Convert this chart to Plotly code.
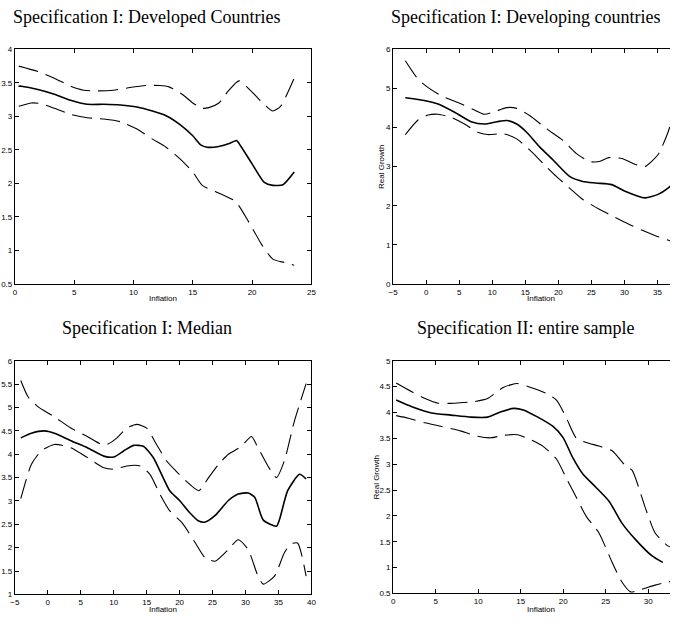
import plotly.graph_objects as go

# ---------------- data ----------------
# Panel 1: Specification I: Developed Countries
p1_mid_x = [0.3, 0.55, 1.94, 3.33, 4.7, 6.1, 7.5, 8.9, 10.3, 11.6, 12.75, 13.9, 15.0, 15.7, 16.2, 17.2, 18.0, 18.7, 18.8, 19.9, 21.0, 21.75, 22.6, 23.55]
p1_mid_y = [3.45, 3.45, 3.40, 3.33, 3.24, 3.18, 3.18, 3.17, 3.14, 3.08, 3.01, 2.88, 2.71, 2.57, 2.54, 2.55, 2.59, 2.64, 2.62, 2.32, 2.02, 1.97, 1.98, 2.17]
p1_up_x = [0.33, 1.94, 3.33, 4.7, 5.8, 6.9, 8.3, 9.7, 11.1, 12.2, 13.0, 14.1, 15.0, 15.8, 16.35, 17.2, 18.0, 18.9, 19.9, 21.0, 21.75, 22.4, 23.55]
p1_up_y = [3.75, 3.67, 3.57, 3.45, 3.39, 3.38, 3.39, 3.43, 3.46, 3.46, 3.44, 3.33, 3.20, 3.12, 3.13, 3.20, 3.38, 3.53, 3.38, 3.18, 3.08, 3.15, 3.57]
p1_lo_x = [0.33, 1.4, 2.22, 3.33, 4.7, 6.1, 7.5, 8.9, 10.3, 11.6, 12.75, 13.9, 15.0, 15.8, 16.9, 18.6, 19.7, 20.8, 21.75, 22.7, 23.55]
p1_lo_y = [3.15, 3.20, 3.19, 3.12, 3.03, 2.98, 2.96, 2.92, 2.81, 2.66, 2.54, 2.37, 2.17, 1.97, 1.88, 1.73, 1.43, 1.09, 0.87, 0.82, 0.78]

# Panel 2: Specification I: Developing countries
p2_mid_x = [-3.16, 0.07, 1.8, 4.3, 6.8, 8.8, 10.75, 12.2, 13.7, 15.2, 17.2, 19.2, 21.7, 23.7, 25.7, 28.1, 30.1, 33.1, 35.1, 36.6, 37.5]
p2_mid_y = [4.76, 4.68, 4.60, 4.39, 4.15, 4.09, 4.15, 4.18, 4.09, 3.88, 3.50, 3.17, 2.75, 2.62, 2.58, 2.54, 2.37, 2.20, 2.29, 2.45, 2.60]
p2_up_x = [-3.16, -1.2, 0.3, 2.3, 4.8, 7.3, 8.8, 10.25, 12.2, 13.7, 15.7, 18.2, 20.7, 22.7, 24.7, 26.2, 27.6, 29.6, 31.6, 33.1, 35.1, 36.6, 37.5]
p2_up_y = [5.71, 5.23, 5.02, 4.81, 4.64, 4.45, 4.34, 4.40, 4.51, 4.49, 4.30, 3.97, 3.67, 3.34, 3.13, 3.13, 3.23, 3.21, 3.06, 3.00, 3.31, 3.88, 4.40]
p2_lo_x = [-3.16, -1.2, 0.3, 1.8, 3.8, 5.8, 7.8, 9.3, 11.7, 13.7, 15.7, 17.7, 19.7, 21.7, 23.7, 26.2, 28.6, 30.6, 32.6, 34.6, 36.8, 37.5]
p2_lo_y = [3.82, 4.20, 4.32, 4.34, 4.26, 4.09, 3.88, 3.82, 3.84, 3.71, 3.42, 3.08, 2.75, 2.45, 2.16, 1.91, 1.70, 1.53, 1.38, 1.24, 1.11, 1.07]

# Panel 3: Specification I: Median
p3_mid_x = [-4.1, -2.5, -0.5, 1.0, 3.5, 6.0, 8.5, 10.0, 11.5, 13.0, 14.5, 16.0, 17.5, 18.5, 20.0, 21.4, 22.9, 23.9, 25.4, 27.4, 28.9, 30.4, 31.4, 32.7, 34.7, 35.2, 36.4, 38.2, 39.2]
p3_mid_y = [4.35, 4.45, 4.50, 4.45, 4.29, 4.14, 3.96, 3.94, 4.07, 4.19, 4.17, 3.93, 3.50, 3.22, 3.01, 2.77, 2.57, 2.55, 2.69, 3.01, 3.15, 3.17, 3.08, 2.59, 2.46, 2.62, 3.22, 3.57, 3.47]
p3_up_x = [-4.1, -3.0, -1.5, 1.0, 3.5, 6.0, 8.0, 9.0, 10.5, 12.0, 13.5, 15.0, 16.5, 18.0, 19.45, 20.95, 22.9, 24.4, 25.9, 27.4, 29.4, 30.9, 31.9, 33.4, 34.7, 35.9, 37.4, 39.2]
p3_up_y = [5.58, 5.23, 5.02, 4.80, 4.56, 4.38, 4.22, 4.21, 4.35, 4.56, 4.64, 4.56, 4.21, 3.86, 3.64, 3.43, 3.22, 3.50, 3.78, 4.00, 4.17, 4.38, 4.14, 3.75, 3.50, 3.86, 4.70, 5.51]
p3_lo_x = [-4.1, -2.5, -1.0, 1.0, 3.5, 6.0, 8.5, 10.0, 12.0, 14.0, 15.5, 17.0, 18.45, 20.45, 22.4, 23.9, 25.4, 27.4, 28.9, 30.4, 31.9, 32.7, 34.4, 35.9, 36.9, 37.9, 39.2]
p3_lo_y = [3.05, 3.78, 4.07, 4.21, 4.14, 3.93, 3.71, 3.68, 3.75, 3.75, 3.57, 3.15, 2.80, 2.52, 2.10, 1.78, 1.71, 1.96, 2.17, 1.96, 1.39, 1.22, 1.39, 1.89, 2.08, 2.10, 1.39]

# Panel 4: Specification II: entire sample
p4_mid_x = [0.35, 2.2, 4.5, 6.8, 9.15, 11.1, 12.6, 14.2, 15.3, 16.9, 18.8, 20.0, 21.1, 22.3, 23.8, 25.4, 26.9, 28.45, 30.4, 31.7]
p4_mid_y = [4.24, 4.11, 3.99, 3.95, 3.91, 3.91, 4.01, 4.08, 4.05, 3.92, 3.73, 3.51, 3.13, 2.81, 2.56, 2.28, 1.86, 1.55, 1.23, 1.10]
p4_up_x = [0.35, 2.2, 3.75, 5.3, 7.2, 9.5, 11.1, 13.0, 14.6, 16.1, 18.0, 19.2, 20.3, 21.5, 22.7, 24.2, 25.75, 27.3, 28.1, 29.6, 30.8, 32.3, 33.0]
p4_up_y = [4.57, 4.40, 4.27, 4.18, 4.18, 4.21, 4.27, 4.49, 4.56, 4.49, 4.37, 4.24, 3.92, 3.51, 3.42, 3.35, 3.26, 2.97, 2.88, 2.18, 1.67, 1.42, 1.38]
p4_lo_x = [0.35, 1.8, 3.75, 5.7, 8.0, 9.9, 11.5, 13.0, 14.6, 16.1, 17.6, 19.2, 20.3, 21.5, 22.7, 24.2, 25.75, 26.9, 27.9, 29.2, 30.8, 32.3, 33.0]
p4_lo_y = [3.94, 3.89, 3.80, 3.73, 3.64, 3.54, 3.51, 3.56, 3.57, 3.48, 3.35, 3.10, 2.75, 2.37, 1.99, 1.67, 1.10, 0.72, 0.53, 0.58, 0.66, 0.72, 0.74]

titles = ["Specification I: Developed Countries", "Specification I: Developing countries",
          "Specification I: Median", "Specification II: entire sample"]

# ---------------- figure ----------------
W, H = 675, 627
fig = go.Figure()

panels = [
    (p1_mid_x, p1_mid_y, p1_up_x, p1_up_y, p1_lo_x, p1_lo_y),
    (p2_mid_x, p2_mid_y, p2_up_x, p2_up_y, p2_lo_x, p2_lo_y),
    (p3_mid_x, p3_mid_y, p3_up_x, p3_up_y, p3_lo_x, p3_lo_y),
    (p4_mid_x, p4_mid_y, p4_up_x, p4_up_y, p4_lo_x, p4_lo_y),
]
DASH = "20px,8px"
for i, (mx, my, ux, uy, lx, ly) in enumerate(panels):
    xa = "x" if i == 0 else f"x{i+1}"
    ya = "y" if i == 0 else f"y{i+1}"
    for xs, ys, dash, w in [(ux, uy, DASH, 1.1), (lx, ly, DASH, 1.1), (mx, my, "solid", 1.6)]:
        fig.add_trace(go.Scatter(x=xs, y=ys, mode="lines", xaxis=xa, yaxis=ya,
                                 line=dict(color="black", width=w, dash=dash,
                                           shape="spline", smoothing=0.6),
                                 showlegend=False, hoverinfo="skip"))

def px_x(p):
    return p / W

def px_y(p):
    return 1 - p / H

# (left, right, top, bottom) in pixels, x range, x dtick, y range, y dtick, mirror y
geo = [
    (10, 311, 46, 284, [0, 25], 5, [0.5, 4], 0.5, "ticks"),
    (394, 675, 46, 284, [-5, 36.9], 5, [0, 6], 1, False),
    (10, 311, 362, 599, [-5, 40], 5, [1, 6], 0.5, "ticks"),
    (394, 675, 362, 598, [0, 32.55], 5, [0.5, 5], 0.5, False),
]
tickfont = dict(family="Liberation Sans, Arial", size=8, color="black")
layout = dict(width=W, height=H, margin=dict(l=0, r=0, t=0, b=0),
              paper_bgcolor="white", plot_bgcolor="white", showlegend=False,
              hovermode=False)
for i, (l, r, t, b, xr, xd, yr, yd, ymir) in enumerate(geo):
    sfx = "" if i == 0 else str(i + 1)
    layout["xaxis" + sfx] = dict(domain=[px_x(l), min(1, px_x(r))], range=xr, dtick=xd, tick0=xr[0] if i != 3 else 0,
                                 anchor="y" + sfx, showgrid=False, zeroline=False,
                                 showline=True, linecolor="black", linewidth=1,
                                 mirror="ticks", ticks="inside", ticklen=4, tickcolor="black",
                                 tickfont=tickfont, fixedrange=True)
    layout["yaxis" + sfx] = dict(domain=[px_y(b), px_y(t)], range=yr, dtick=yd, tick0=yr[0],
                                 anchor="x" + sfx, showgrid=False, zeroline=False,
                                 showline=True, linecolor="black", linewidth=1,
                                 mirror=ymir, ticks="inside", ticklen=4, tickcolor="black",
                                 tickfont=tickfont, fixedrange=True)

annotations = []
title_pos = [(143.5, 13), (528.5, 13), (144, 329), (528, 329)]
for txt, (cx, cy) in zip(titles, title_pos):
    annotations.append(dict(text=txt, x=px_x(cx), y=px_y(cy), xref="paper", yref="paper",
                            showarrow=False, xanchor="center", yanchor="middle",
                            font=dict(family="Liberation Serif, Times New Roman", size=18, color="black")))
for cx, cy in [(160, 299), (544, 299), (160, 614), (544, 614)]:
    annotations.append(dict(text="Inflation", x=px_x(cx), y=px_y(cy), xref="paper", yref="paper",
                            showarrow=False, xanchor="center", yanchor="middle",
                            font=dict(family="Liberation Sans, Arial", size=8, color="black")))
for cx, cy in [(382, 165), (377, 480)]:
    annotations.append(dict(text="Real Growth", x=px_x(cx), y=px_y(cy), xref="paper", yref="paper",
                            showarrow=False, xanchor="center", yanchor="middle", textangle=-90,
                            font=dict(family="Liberation Sans, Arial", size=8, color="black")))
layout["annotations"] = annotations
fig.update_layout(**layout)
fig.write_html("out.html", config={"displayModeBar": False, "staticPlot": True},
               post_script="document.body.style.margin='0px';document.body.style.overflow='hidden';")
